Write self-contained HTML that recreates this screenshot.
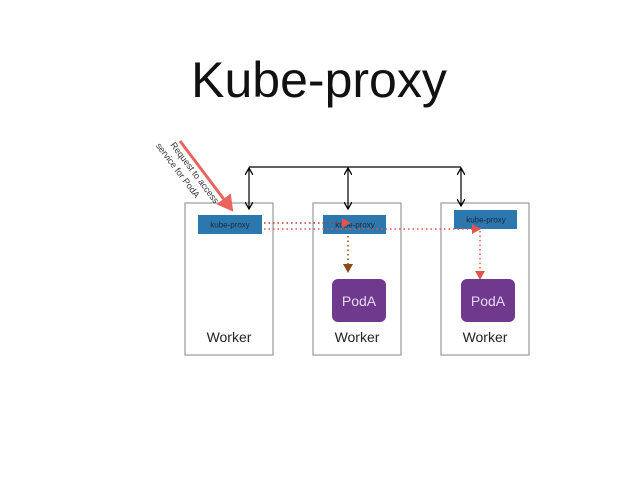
<!DOCTYPE html>
<html><head><meta charset="utf-8"><style>
html,body{margin:0;padding:0;background:#fff;}
body{width:638px;height:479px;position:relative;overflow:hidden;font-family:"Liberation Sans",sans-serif;}
</style></head><body>
<svg width="638" height="479" viewBox="0 0 638 479" xmlns="http://www.w3.org/2000/svg" style="position:absolute;left:0;top:0">
<defs>
<marker id="blk" markerWidth="8" markerHeight="8" refX="7" refY="4" orient="auto-start-reverse" markerUnits="userSpaceOnUse"><path d="M0,0 L7,4 L0,8" fill="none" stroke="#000" stroke-width="1.3"/></marker>
<marker id="red" markerWidth="10" markerHeight="10" refX="8" refY="5" orient="auto" markerUnits="userSpaceOnUse"><path d="M0,0 L9,5 L0,10 z" fill="#e0554f"/></marker>
<marker id="brn" markerWidth="10" markerHeight="10" refX="8" refY="5" orient="auto" markerUnits="userSpaceOnUse"><path d="M0,0 L9,5 L0,10 z" fill="#8b4a17"/></marker>
<marker id="big" markerWidth="20" markerHeight="20" refX="14" refY="9" orient="auto" markerUnits="userSpaceOnUse"><path d="M0,0 L16,9 L0,18 z" fill="#e8645c"/></marker>
</defs>
<text x="319" y="97" font-size="50" text-anchor="middle" fill="#111" font-family="Liberation Sans, sans-serif">Kube-proxy</text>
<g fill="#fff" stroke="#999" stroke-width="1.2">
<rect x="185" y="203" width="88" height="152"/>
<rect x="313" y="203" width="88" height="152"/>
<rect x="441" y="203" width="88" height="152"/>
</g>
<polyline points="249,167 461,167" fill="none" stroke="#000" stroke-width="1.2"/>
<g stroke="#000" stroke-width="1.2">
<line x1="249" y1="168" x2="249" y2="209" marker-start="url(#blk)" marker-end="url(#blk)"/>
<line x1="348" y1="168" x2="348" y2="209" marker-start="url(#blk)" marker-end="url(#blk)"/>
<line x1="461" y1="168" x2="461" y2="206" marker-start="url(#blk)" marker-end="url(#blk)"/>
</g>
<g fill="#2c77ad">
<rect x="198" y="215" width="64" height="19"/>
<rect x="323" y="215" width="63" height="19"/>
<rect x="454" y="210" width="63" height="19"/>
</g>
<g font-size="8" fill="#1a2a3a" text-anchor="middle">
<text x="230" y="227.5">kube-proxy</text>
<text x="355" y="227.5">kube-proxy</text>
<text x="486" y="222.5">kube-proxy</text>
</g>
<line x1="264" y1="223" x2="350" y2="223" stroke="#a33" stroke-width="1.5" stroke-dasharray="1.5 3" marker-end="url(#red)"/>
<line x1="264" y1="229" x2="480" y2="229" stroke="#e0554f" stroke-width="1.5" stroke-dasharray="1.5 3" marker-end="url(#red)"/>
<line x1="348" y1="236" x2="348" y2="272" stroke="#8b4a17" stroke-width="1.5" stroke-dasharray="1.5 3" marker-end="url(#brn)"/>
<line x1="480" y1="231" x2="480" y2="279" stroke="#e0554f" stroke-width="1.5" stroke-dasharray="1.5 3" marker-end="url(#red)"/>
<g fill="#6f3a8e">
<rect x="332" y="279" width="54" height="43" rx="6"/>
<rect x="461" y="279" width="54" height="43" rx="6"/>
</g>
<g font-size="14" fill="#e8d8f0" text-anchor="middle">
<text x="359" y="306">PodA</text>
<text x="488" y="306">PodA</text>
</g>
<g font-size="14" fill="#222" text-anchor="middle">
<text x="229" y="342">Worker</text>
<text x="357" y="342">Worker</text>
<text x="485" y="342">Worker</text>
</g>
<line x1="180" y1="141" x2="232" y2="210" stroke="#e8645c" stroke-width="3" marker-end="url(#big)"/>
<g font-size="9" fill="#333" transform="rotate(53 170 145)">
<text x="170" y="145">Request to access</text>
<text x="162" y="157">service for PodA</text>
</g>
</svg>
</body></html>
